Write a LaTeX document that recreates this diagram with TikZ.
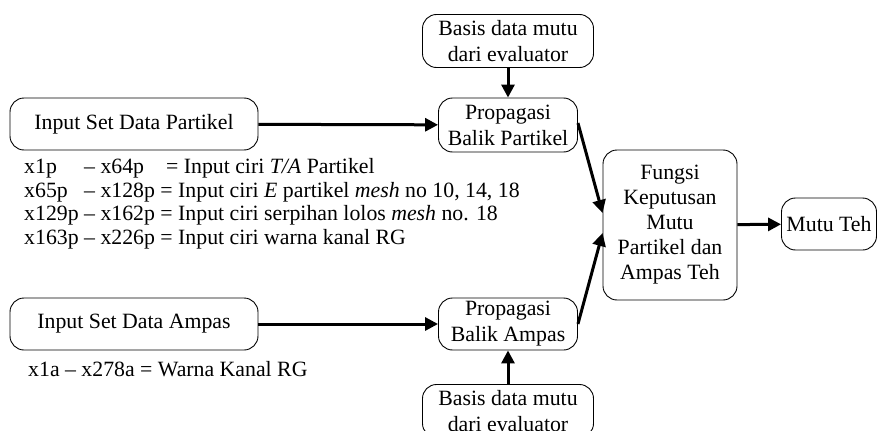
\documentclass[tikz,border=0pt]{standalone}
\usepackage{fontspec}
\setmainfont{Liberation Serif}
\usetikzlibrary{arrows.meta}
\usetikzlibrary{calc}

\tikzset{
  box/.style={draw, rounded corners=14pt, line width=0.9pt, align=center, inner sep=0pt},
  flow/.style={line width=3pt, -{Triangle[length=13pt,width=13pt]}}
}

\begin{document}
\begin{tikzpicture}[x=1pt,y=-1pt,font=\fontsize{21.8}{26}\selectfont]
        \useasboundingbox (0,0) rectangle (879,431);
        % inputs
        \node[box, minimum width=248pt, minimum height=52pt] (inP) at (134,124) {Input Set Data Partikel};
        \node[box, minimum width=248pt, minimum height=52pt] (inA) at (134,324) {Input Set Data Ampas};
        \node[anchor=north west, inner sep=0pt, font=\fontsize{21.8}{23.5}\selectfont] (ciriP) at (24,157) {%
          \begin{tabular}{@{}l@{\ }l@{}}
          x1p & -- x64p\hspace{22pt}= Input ciri \textit{T/A} Partikel\\
          x65p & -- x128p = Input ciri \textit{E} partikel \textit{mesh} no 10, 14, 18\\
          x129p & -- x162p = Input ciri serpihan lolos \textit{mesh} no. 18\\
          x163p & -- x226p = Input ciri warna kanal RG
          \end{tabular}};
        \node[anchor=west, inner sep=0pt] (ciriA) at (28,369) {x1a -- x278a = Warna Kanal RG};
        % evaluator
        \node[box, minimum width=171pt, minimum height=53pt] (bdP) at (508,41) {Basis data mutu\\dari evaluator};
        \node[box, minimum width=171pt, minimum height=53pt] (bdA) at (508,411) {Basis data mutu\\dari evaluator};
        % propagasi balik
        \node[box, minimum width=139pt, minimum height=54pt] (pbP) at (508,125) {Propagasi\\Balik Partikel};
        \node[box, minimum width=139pt, minimum height=52pt] (pbA) at (508,324) {Propagasi\\Balik Ampas};
        % keputusan
        \node[box, minimum width=134pt, minimum height=150pt, font=\fontsize{21.8}{25}\selectfont] (fk) at (670,225) {Fungsi\\Keputusan\\Mutu\\Partikel dan\\Ampas Teh};
        \node[box, minimum width=95pt, minimum height=52pt] (mt) at (829,224) {Mutu Teh};
        % connectors
        \draw[flow] (inP) -- (pbP);
        \draw[flow] (inA) -- (pbA);
        \draw[flow] (bdP) -- (pbP);
        \draw[flow] (bdA) -- (pbA);
        \draw[flow] ($(pbP.east)+(0,-2)$) -- ($(fk.west)+(0,-12)$);
        \draw[flow] (pbA.east) -- ($(fk.west)+(0,8)$);
        \draw[flow] (fk) -- (mt);
    \end{tikzpicture}
\end{document}
